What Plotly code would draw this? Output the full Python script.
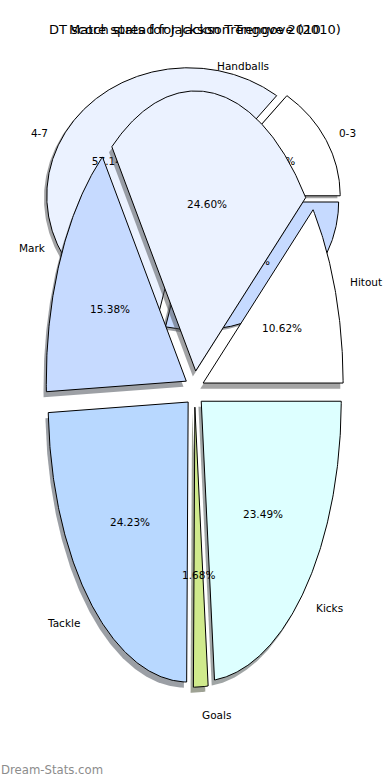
import numpy as np
import plotly.graph_objects as go

# ---------------- data ----------------
title_dt = "DT score spread for Jackson Trengove (2010)"
dt_labels = ["0-3", "4-7", "8-11"]
dt_values = [14.29, 57.14, 28.57]
dt_colors = ["#ffffff", "#ebf2ff", "#c6daff"]

title_match = "Match stats for Jackson Trengove 2010"
match_labels = ["Hitout", "Handballs", "Mark", "Tackle", "Goals", "Kicks"]
match_values = [10.62, 24.60, 15.38, 24.23, 1.68, 23.49]
match_colors = ["#ffffff", "#ebf2ff", "#c6daff", "#b8d8ff", "#d0ea8c", "#ddffff"]

watermark = "Dream-Stats.com"

# ---------------- layout geometry ----------------
W, H = 390, 780
FONT = "DejaVu Sans"
# pie geometry in pixels: centre x, centre y (from top), radius x, radius y, explode
PIE_DT = dict(cx=193.5, cy=198.0, rx=141.6, ry=128.0, explode=0.04)
PIE_MATCH = dict(cx=194.5, cy=389.0, rx=140.0, ry=280.0, explode=0.065)
SHADOW = -0.02


def axis_ranges(g):
    xr = [-g["cx"] / g["rx"], (W - g["cx"]) / g["rx"]]
    yr = [-(H - g["cy"]) / g["ry"], g["cy"] / g["ry"]]
    return xr, yr


def hex_to_rgb(h):
    h = h.lstrip("#")
    return tuple(int(h[i:i + 2], 16) for i in (0, 2, 4))


def wedges(values, explode):
    v = np.asarray(values, dtype=float)
    fr = v / v.sum()
    edges = np.concatenate([[0.0], np.cumsum(fr)]) * 360.0
    out = []
    for i in range(len(v)):
        t1, t2 = edges[i], edges[i + 1]
        m = np.deg2rad((t1 + t2) / 2)
        ox, oy = explode * np.cos(m), explode * np.sin(m)
        n = max(int(abs(t2 - t1)) * 2 + 2, 4)
        a = np.deg2rad(np.linspace(t1, t2, n))
        xs = np.concatenate([[ox], ox + np.cos(a), [ox]])
        ys = np.concatenate([[oy], oy + np.sin(a), [oy]])
        out.append(dict(xs=xs, ys=ys, m=m, ox=ox, oy=oy, frac=fr[i]))
    return out


fig = go.Figure()


def add_pie(labels, values, colors, g, xa, ya, text_as_annotations):
    ws = wedges(values, g["explode"])
    # shadows first (below wedges)
    for w, c in zip(ws, colors):
        r, gg, b = hex_to_rgb(c)
        fig.add_trace(go.Scatter(
            x=w["xs"] + SHADOW, y=w["ys"] + SHADOW, mode="lines", fill="toself",
            fillcolor=f"rgba({int(r*0.3)},{int(gg*0.3)},{int(b*0.3)},0.5)",
            line=dict(width=0), hoverinfo="skip", showlegend=False,
            xaxis=xa, yaxis=ya))
    for w, c in zip(ws, colors):
        fig.add_trace(go.Scatter(
            x=w["xs"], y=w["ys"], mode="lines", fill="toself", fillcolor=c,
            line=dict(color="#000000", width=1), hoverinfo="skip",
            showlegend=False, xaxis=xa, yaxis=ya))
    for w, lab in zip(ws, labels):
        pct = f"{100 * w['frac']:.2f}%"
        px_ = w["ox"] + 0.6 * np.cos(w["m"])
        py_ = w["oy"] + 0.6 * np.sin(w["m"])
        lx = w["ox"] + 1.1 * np.cos(w["m"])
        ly = w["oy"] + 1.1 * np.sin(w["m"])
        side = "left" if lx > 0 else "right"
        if text_as_annotations:
            fig.add_annotation(x=px_, y=py_, xref=xa, yref=ya, text=pct,
                               showarrow=False, xanchor="center", yanchor="middle",
                               font=dict(family=FONT, size=10.5, color="#000"),
                               borderpad=0)
            fig.add_annotation(x=lx, y=ly, xref=xa, yref=ya, text=lab,
                               showarrow=False, xanchor=side, yanchor="middle",
                               font=dict(family=FONT, size=10.5, color="#000"),
                               borderpad=0)
        else:
            fig.add_trace(go.Scatter(
                x=[px_], y=[py_], mode="text", text=[pct],
                textposition="middle center",
                textfont=dict(family=FONT, size=10.5, color="#000"),
                hoverinfo="skip", showlegend=False, xaxis=xa, yaxis=ya))
            fig.add_trace(go.Scatter(
                x=[lx], y=[ly], mode="text", text=[lab],
                textposition="middle " + ("right" if side == "left" else "left"),
                textfont=dict(family=FONT, size=10.5, color="#000"),
                hoverinfo="skip", showlegend=False, xaxis=xa, yaxis=ya))


add_pie(dt_labels, dt_values, dt_colors, PIE_DT, "x", "y", False)
add_pie(match_labels, match_values, match_colors, PIE_MATCH, "x2", "y2", True)

xr1, yr1 = axis_ranges(PIE_DT)
xr2, yr2 = axis_ranges(PIE_MATCH)

ax_common = dict(visible=False, showgrid=False, zeroline=False, fixedrange=True)
fig.update_layout(
    width=W, height=H, autosize=False,
    margin=dict(l=0, r=0, t=0, b=0),
    paper_bgcolor="#ffffff", plot_bgcolor="rgba(0,0,0,0)",
    showlegend=False,
    xaxis=dict(domain=[0, 1], range=xr1, anchor="y", **ax_common),
    yaxis=dict(domain=[0, 1], range=yr1, anchor="x", **ax_common),
    xaxis2=dict(range=xr2, overlaying="x", anchor="y2", **ax_common),
    yaxis2=dict(range=yr2, overlaying="y", anchor="x2", **ax_common),
)

for t in (title_dt, title_match):
    fig.add_annotation(x=0.5, y=1 - 30 / H, xref="paper", yref="paper",
                       text=t, showarrow=False, xanchor="center", yanchor="middle",
                       font=dict(family=FONT, size=13, color="#000"))

fig.add_annotation(x=0, y=1 - 770 / H, xref="paper", yref="paper",
                   text=watermark, showarrow=False, xanchor="left", yanchor="middle",
                   font=dict(family=FONT, size=11.7, color="#8c8c8c"), borderpad=0)

fig.write_html("out.html", config={"displayModeBar": False},
               post_script="document.body.style.margin='0px';document.body.style.overflow='hidden';")
